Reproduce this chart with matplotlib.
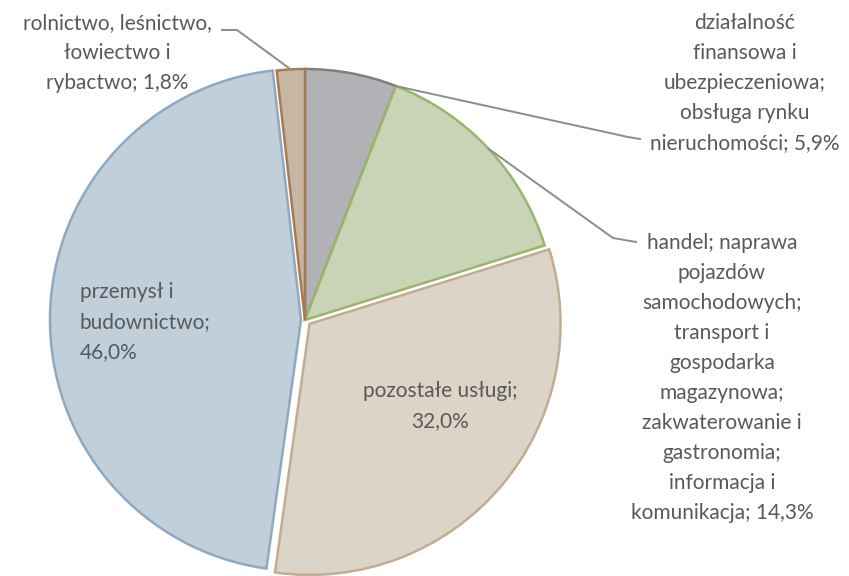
import numpy as np
import matplotlib
matplotlib.use("Agg")
import matplotlib.pyplot as plt

# Data
labels = [
    "działalność\nfinansowa i\nubezpieczeniowa;\nobsługa rynku\nnieruchomości; 5,9%",
    "handel; naprawa\npojazdów\nsamochodowych;\ntransport i\ngospodarka\nmagazynowa;\nzakwaterowanie i\ngastronomia;\ninformacja i\nkomunikacja; 14,3%",
    "pozostałe usługi;\n32,0%",
    "przemysł i\nbudownictwo;\n46,0%",
    "rolnictwo, leśnictwo,\nłowiectwo i\nrybactwo; 1,8%",
]
values = [5.9, 14.3, 32.0, 46.0, 1.8]
colors = ["#B2B2B6", "#C9D3B6", "#DDD4C8", "#C1CFDB", "#C8B6A5"]
edges = ["#7F7F82", "#9BB56A", "#C2AC92", "#8FA9C1", "#A67C52"]
explode_px = [0, 0, 6, 4, 0]

W, H = 849, 576
fig = plt.figure(figsize=(W / 100, H / 100), dpi=100)
ax = fig.add_axes([0, 0, 1, 1])

cx, cy, R = 305, H - 320, 251
wedges, _ = ax.pie(values, colors=colors, startangle=90, counterclock=False,
                   explode=explode_px, center=(cx, cy), radius=R, frame=True,
                   wedgeprops=dict(linewidth=1.8))
ax.set_xlim(0, W)
ax.set_ylim(0, H)
ax.set_aspect("equal")
ax.axis("off")
for w, ec in zip(wedges, edges):
    w.set_edgecolor(ec)

tc = "#595959"
fs = 15
font = "Lato"

def arc_pt(i, frac):
    w = wedges[i]
    a = np.deg2rad(w.theta1 + (w.theta2 - w.theta1) * frac)
    c = w.center
    return c[0] + w.r * np.cos(a), c[1] + w.r * np.sin(a)

# label layout (pixel coordinates, y from top)
txt_pos = [(745, 83, "center", "center"),
           (722, 378, "center", "center"),
           (440, 406, "center", "center"),
           (80, 322, "left", "left"),
           (117, 53, "center", "center")]
for lab, (x, y, ha, ma) in zip(labels, txt_pos):
    ax.text(x, H - y, lab, ha=ha, va="center", multialignment=ma,
            fontsize=fs, color=tc, family=font, linespacing=1.62)

lc = "#8C8C8C"
p = arc_pt(0, 0.0)
ax.plot([p[0], 628, 640], [p[1], H - 137, H - 139], color=lc, lw=1.4)
p = arc_pt(1, 0.5)
ax.plot([p[0], 613, 636], [p[1], H - 238, H - 242], color=lc, lw=1.4)
p = arc_pt(4, 0.5)
ax.plot([p[0], 237, 222], [p[1], H - 30, H - 30], color=lc, lw=1.4)

fig.savefig("out.png", dpi=100)
